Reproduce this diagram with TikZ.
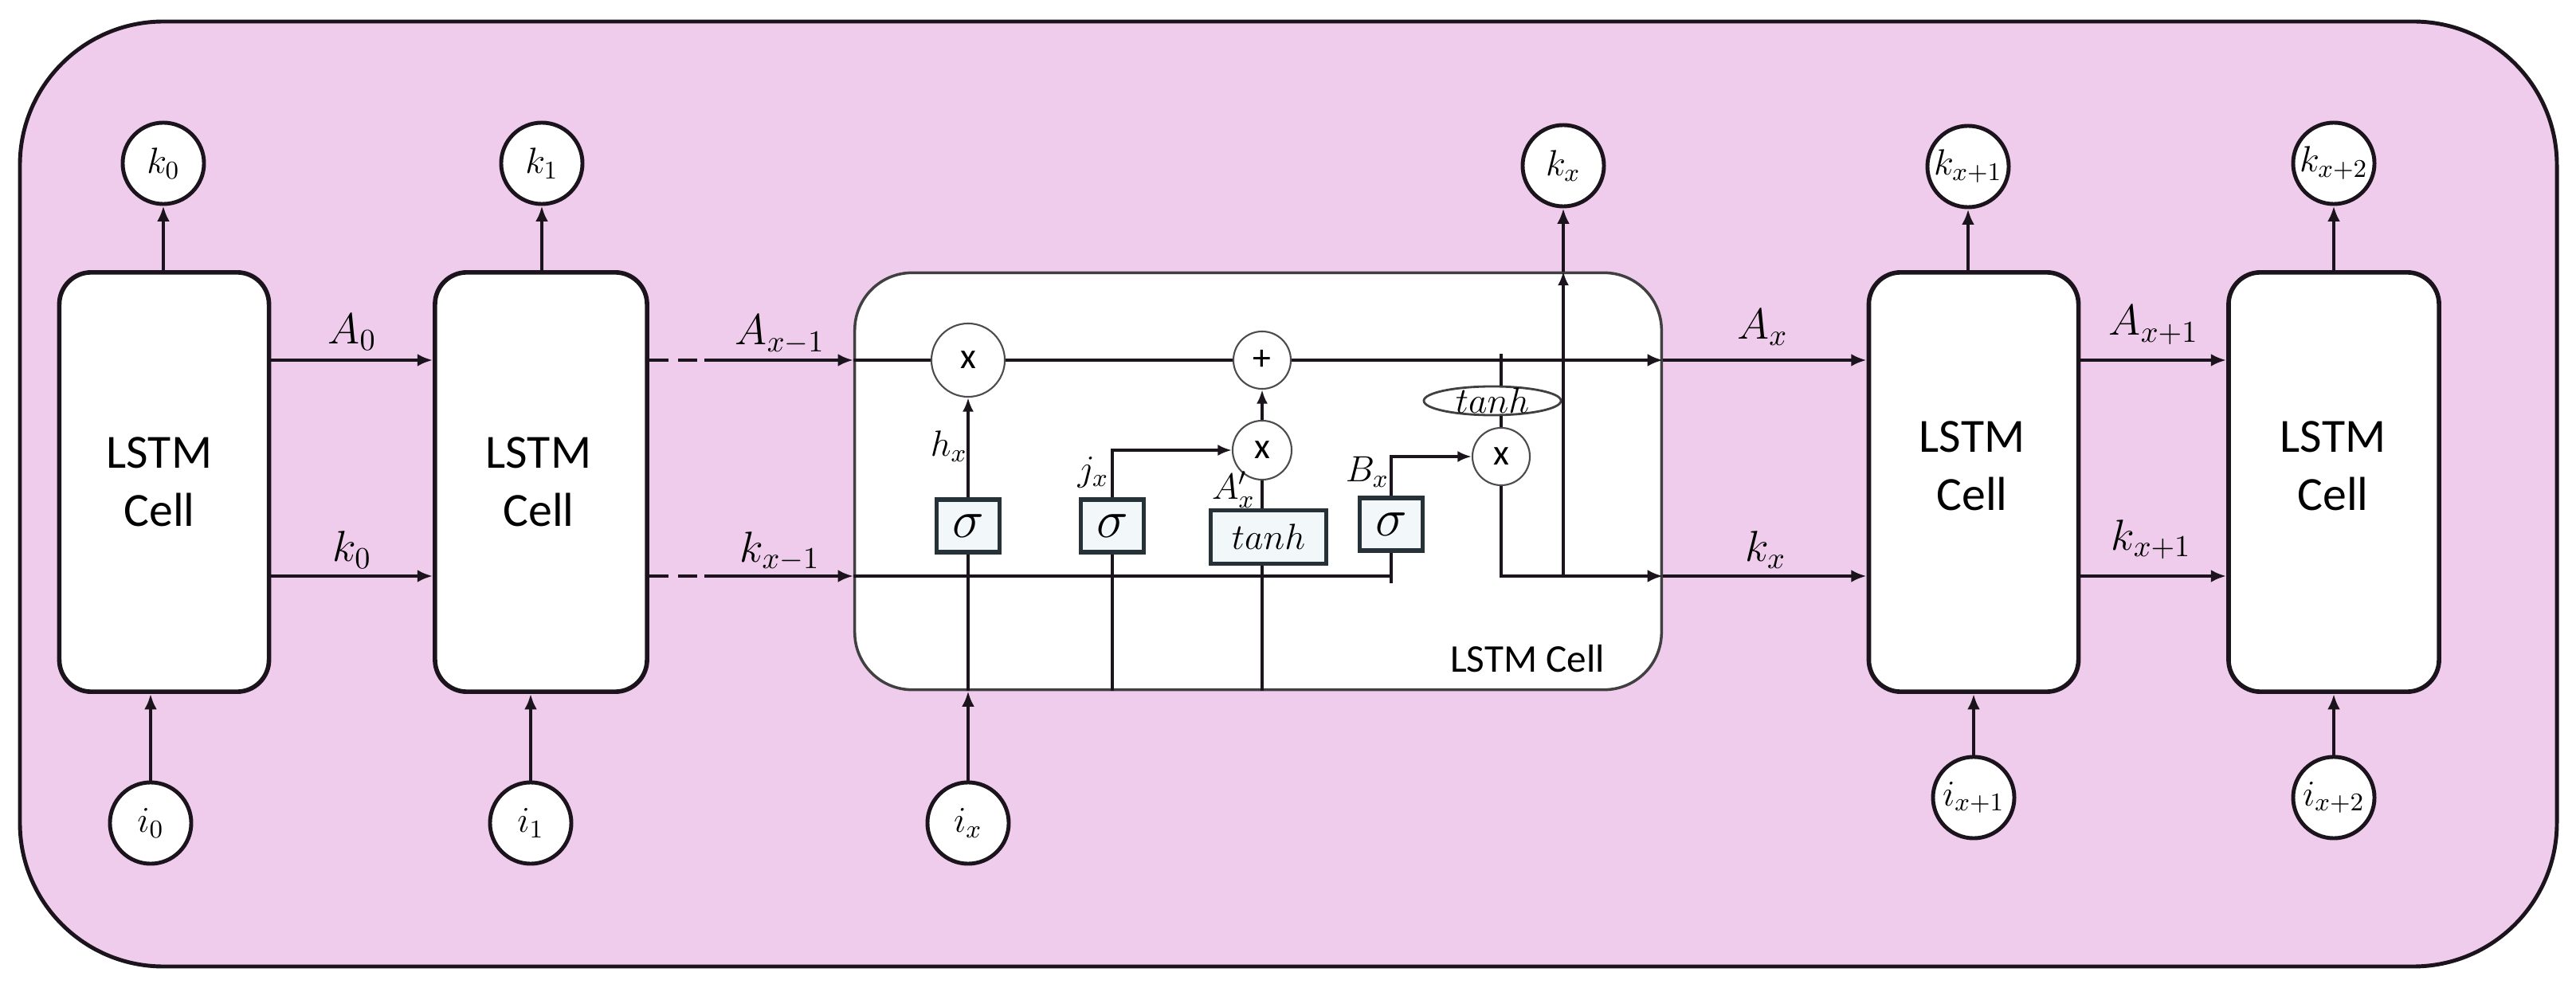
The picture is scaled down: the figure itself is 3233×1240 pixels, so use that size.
\RequirePackage{fix-cm}
\documentclass[tikz,border=0pt]{standalone}
\usepackage{fontspec}
\setmainfont{Carlito}
\usetikzlibrary{arrows.meta,shapes.geometric,calc}
\definecolor{pinkbg}{RGB}{240,204,236}
\definecolor{boxfill}{RGB}{242,248,250}
\definecolor{boxline}{RGB}{38,50,56}
\definecolor{lineblk}{RGB}{28,20,28}
\tikzset{
  cellbox/.style={draw=lineblk, line width=1.6pt, fill=white, rounded corners=0.4cm,
    minimum width=2.63cm, minimum height=5.26cm, inner sep=0pt},
  celltxt/.style={align=center, font=\fontsize{17}{20.7}\selectfont, inner sep=0pt},
  io/.style={circle, draw=lineblk, line width=1.4pt, fill=white, minimum size=1.02cm,
    inner sep=0pt, font=\fontsize{13}{15}\selectfont},
  arr/.style={-{Latex[length=5.5pt,width=4.5pt]}, line width=1.2pt, draw=lineblk},
  ln/.style={line width=1.4pt, draw=lineblk},
  thinln/.style={line width=1pt, draw=lineblk},
  arrthin/.style={-{Latex[length=5pt,width=4pt]}, line width=1pt, draw=lineblk},
  arrthick/.style={-{Latex[length=5.5pt,width=4.5pt]}, line width=1.4pt, draw=lineblk},
  op/.style={circle, draw=black!70, line width=0.6pt, fill=white, inner sep=0pt,
    font=\fontsize{13}{15}\selectfont},
  gate/.style={draw=boxline, line width=1.6pt, fill=boxfill, minimum width=0.79cm,
    minimum height=0.66cm, inner sep=0pt, font=\fontsize{19}{21}\selectfont},
  elab/.style={font=\fontsize{15.5}{17}\selectfont, inner sep=0pt},
  ilab/.style={font=\fontsize{13}{15}\selectfont, inner sep=0pt},
}
\begin{document}
\begin{tikzpicture}[x=0.01cm, y=-0.01cm]
\useasboundingbox (0,0) rectangle (3233,1240);
% outer frame
\draw[fill=pinkbg, draw=lineblk, line width=1.4pt, rounded corners=1.8cm] (25,27) rectangle (3209,1213);

% rows
\coordinate (rA) at (0,452);
\coordinate (rK) at (0,723);

% outer cells
\node[cellbox] (c1) at (206,605) {};
\node[cellbox, minimum width=2.66cm] (c2) at (679,605) {};
\node[cellbox] (c4) at (2477,605) {};
\node[cellbox, minimum width=2.64cm] (c5) at (2929,605) {};
\node[celltxt] (t1) at (200,605) {LSTM\\Cell};
\node[celltxt] (t2) at (676,605) {LSTM\\Cell};
\node[celltxt] (t4) at (2475,585) {LSTM\\Cell};
\node[celltxt] (t5) at (2928,585) {LSTM\\Cell};

% central cell
\node[draw=black!75, line width=1pt, fill=white, rounded corners=0.72cm,
  minimum width=10.12cm, minimum height=5.23cm, inner sep=0pt] (cc) at (1579,604) {};
\node[font=\fontsize{14}{16}\selectfont, inner sep=0pt] (lc) at (1917,827) {LSTM Cell};

% top outputs
\node[io] (o0) at (205,205) {$k_0$};
\node[io] (o1) at (680,205) {$k_1$};
\node[io] (ox) at (1962,208) {$k_x$};
\node[io] (ox1) at (2470,209) {$k_{x+1}$};
\node[io] (ox2) at (2929,205) {$k_{x+2}$};
\draw[arr] (o0 |- c1.north) -- (o0);
\draw[arr] (o1 |- c2.north) -- (o1);
\draw[arr] (ox1 |- c4.north) -- (ox1);
\draw[arr] (ox2 |- c5.north) -- (ox2);

% bottom inputs
\node[io] (i0) at (189,1033) {$i_0$};
\node[io] (i1) at (666,1033) {$i_1$};
\node[io] (ix) at (1215,1033) {$i_x$};
\node[io] (ix1) at (2477,1001) {$i_{x+1}$};
\node[io] (ix2) at (2929,1001) {$i_{x+2}$};
\draw[arr] (i0) -- (i0 |- c1.south);
\draw[arr] (i1) -- (i1 |- c2.south);
\draw[arr] (ix) -- (ix |- cc.south);
\draw[arr] (ix1) -- (ix1 |- c4.south);
\draw[arr] (ix2) -- (ix2 |- c5.south);

% horizontal connections between cells
\draw[arr] (c1.east |- rA) -- (c2.west |- rA);
\draw[arr] (c1.east |- rK) -- (c2.west |- rK);
\coordinate (dA) at (884,452);
\coordinate (dK) at (884,723);
\draw[line width=1.2pt, draw=lineblk, dash pattern=on 0.24cm off 0.12cm] (c2.east |- rA) -- (dA);
\draw[line width=1.2pt, draw=lineblk, dash pattern=on 0.24cm off 0.12cm] (c2.east |- rK) -- (dK);
\draw[arr] (dA) -- (cc.west |- rA);
\draw[arr] (dK) -- (cc.west |- rK);
\draw[arr] (cc.east |- rA) -- (c4.west |- rA);
\draw[arr] (cc.east |- rK) -- (c4.west |- rK);
\draw[arr] (c4.east |- rA) -- (c5.west |- rA);
\draw[arr] (c4.east |- rK) -- (c5.west |- rK);

% edge labels
\node[elab] (lA0) at (442,417) {$A_0$};
\node[elab] (lk0) at (442,690) {$k_0$};
\node[elab] (lAm) at (979,420) {$A_{x-1}$};
\node[elab] (lkm) at (979,692) {$k_{x-1}$};
\node[elab] (lAx) at (2212,411) {$A_x$};
\node[elab] (lkx) at (2216,690) {$k_x$};
\node[elab] (lAp) at (2703,408) {$A_{x+1}$};
\node[elab] (lkp) at (2700,677) {$k_{x+1}$};

% inside central cell: operators
\node[op, minimum size=0.92cm] (mF) at (1215,452) {x};
\node[op, minimum size=0.72cm] (pl) at (1584,452) {+};
\node[op, minimum size=0.74cm] (mI) at (1584,565) {x};
\node[op, minimum size=0.72cm] (mO) at (1884,573) {x};
\node[ellipse, draw=black!75, line width=0.8pt, fill=white, minimum width=1.72cm,
  minimum height=0.36cm, inner sep=0pt] (tE) at (1873,503) {};
\node[ilab] (tEt) at (1873,503) {$tanh$};

% gates
\node[gate] (g1) at (1215,660) {$\sigma$};
\node[gate] (g2) at (1396,660) {$\sigma$};
\node[gate, minimum width=1.45cm, minimum height=0.67cm, font=\fontsize{13}{15}\selectfont] (gT) at (1592,674) {$tanh$};
\node[gate] (g4) at (1746,658) {$\sigma$};

% inner lines
\draw[ln] (cc.west |- rA) -- (mF);
\draw[ln] (mF) -- (pl);
\draw[arrthick] (pl) -- (cc.east |- rA);
\draw[ln] (cc.west |- rK) -- (g4 |- rK);
\draw[thinln] ($(g4 |- rK)+(0,9)$) -- (g4.south);
\draw[arrthin] (g4.north) |- (mO);
\draw[thinln] (ix |- cc.south) -- (g1.south);
\draw[arrthin] (g1.north) -- (mF);
\draw[thinln] (g2 |- cc.south) -- (g2.south);
\draw[arrthin] (g2.north) |- (mI);
\draw[thinln] (mI |- cc.south) -- (mI |- gT.south);
\draw[thinln] (mI |- gT.north) -- (mI);
\draw[arrthin] (mI) -- (pl);
\coordinate (tj) at (1884,444);
\draw[thinln] (tj) -- (tj |- tE.north);
\draw[thinln] (tj |- tE.south) -- (mO);
\draw[arrthick] (mO) |- (cc.east |- rK);
\draw[arrthin] (ox |- rK) -- (ox |- cc.north);
\draw[arr] (ox |- cc.north) -- (ox);

% inner labels
\node[ilab] (lh) at (1191,560) {$h_x$};
\node[ilab] (lj) at (1372,593) {$j_x$};
\node[ilab] (la) at (1548,615) {$A'_x$};
\node[ilab] (lb) at (1716,592) {$B_x$};
\end{tikzpicture}
\end{document}
